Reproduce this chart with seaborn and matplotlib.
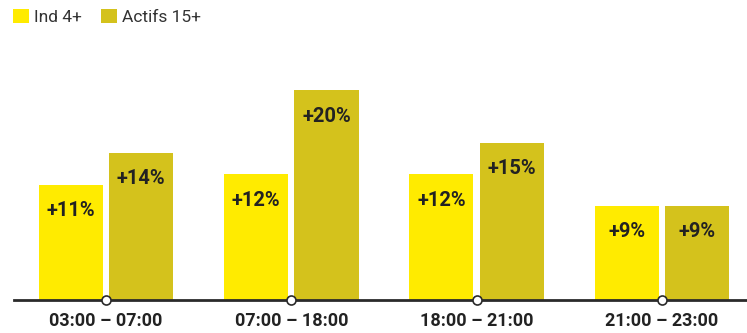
import pandas as pd
import numpy as np
import matplotlib.pyplot as plt
import seaborn as sns
from matplotlib.patches import Patch

# Données
periods = ["03:00 – 07:00", "07:00 – 18:00", "18:00 – 21:00", "21:00 – 23:00"]
series = ["Ind 4+", "Actifs 15+"]
ind_values = [11, 12, 12, 9]
actifs_values = [14, 20, 15, 9]

colors = ["#FFEB00", "#D4C21C"]

df = pd.DataFrame({
    "period": periods * 2,
    "serie": [series[0]] * 4 + [series[1]] * 4,
    "value": ind_values + actifs_values,
})

sns.set_theme(style="white")
plt.rcParams["font.family"] = ["Roboto", "DejaVu Sans"]

fig = plt.figure(figsize=(7.47, 3.33), dpi=100)
ax = fig.add_axes([14 / 747, 33 / 333, 1 - 14 / 747, 262 / 333])

sns.barplot(data=df, x="period", y="value", hue="serie", palette=colors,
            width=0.76, gap=0.09, ax=ax, legend=False, saturation=1,
            edgecolor="none")

ax.set_xlim(-0.497, 3.46)
ax.set_ylim(0, 262 / 10.5)

# Étiquettes dans les barres
for container in ax.containers:
    for bar in container:
        h = bar.get_height()
        ax.annotate(f"+{h:.0f}%", (bar.get_x() + bar.get_width() / 2, h),
                    xytext=(0, -26), textcoords="offset pixels",
                    ha="center", va="center", fontsize=14.5,
                    fontweight="bold", color="#222222")

# Axe
for s in ["top", "right", "left"]:
    ax.spines[s].set_visible(False)
ax.spines["bottom"].set_color("#2a2a2a")
ax.spines["bottom"].set_linewidth(2)
ax.set_yticks([])
ax.set_xlabel("")
ax.set_ylabel("")
ax.tick_params(axis="x", length=0, pad=9, labelsize=13, colors="#222222")
for lbl in ax.get_xticklabels():
    lbl.set_fontweight("bold")

ax.plot(range(len(periods)), [0] * len(periods), "o", ms=6.5,
        mfc="white", mec="#2a2a2a", mew=1.2, clip_on=False, zorder=5)

# Légende
handles = [Patch(facecolor=c, edgecolor="none") for c in colors]
fig.legend(handles, series, loc="upper left", bbox_to_anchor=(-0.003, 1.02),
           ncol=2, frameon=False, fontsize=12.5, handlelength=0.9,
           handleheight=0.9, handletextpad=0.3, columnspacing=1.1,
           labelcolor="#333333")

fig.savefig("out.png", dpi=100)
